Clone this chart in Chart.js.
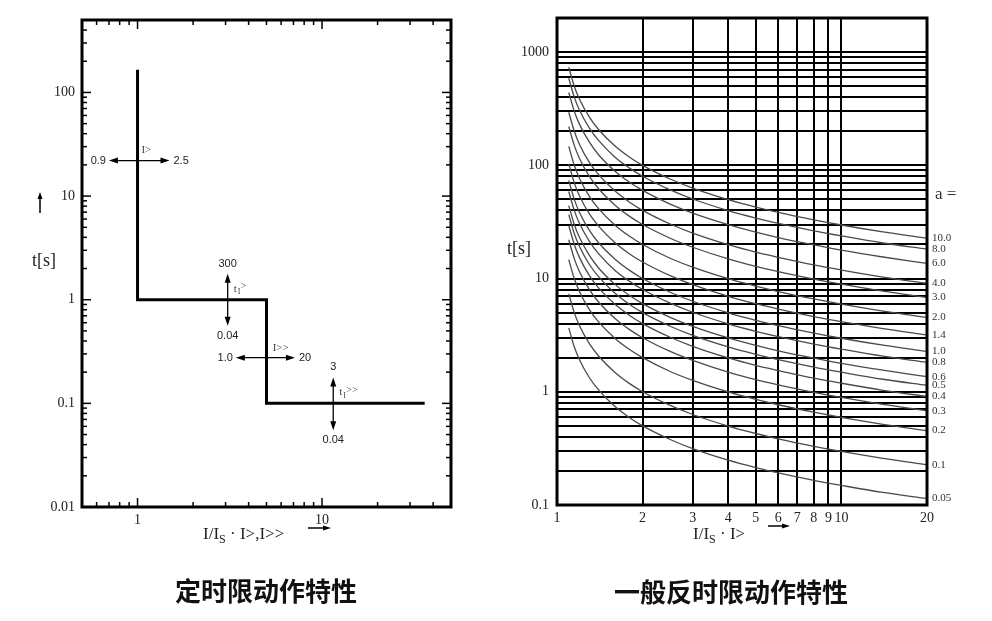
<!DOCTYPE html>
<html>
<head>
<meta charset="utf-8">
<script src="https://cdn.jsdelivr.net/npm/chart.js@4.4.1/dist/chart.umd.min.js"></script>
<style>
  body{margin:0;background:#fff;width:992px;height:621px;position:relative;overflow:hidden;}
  canvas{position:absolute;top:0;}
  #defTime{left:0;}
  #invTime{left:496px;}
  .cap{position:absolute;font-family:"Noto Sans CJK SC";font-weight:700;font-size:26px;color:#111;transform:translate(-50%,-50%);white-space:nowrap;}
  .ttl{position:absolute;font-family:"Liberation Serif",serif;font-size:17px;color:#222;white-space:nowrap;line-height:20px;}
  .ttl sub{font-size:12px;vertical-align:baseline;position:relative;top:4px;}
</style>
</head>
<body>
<canvas id="defTime" width="496" height="621"></canvas>
<canvas id="invTime" width="496" height="621"></canvas>
<div class="ttl" style="left:203px;top:524px">I/I<sub>S</sub> · I&gt;,I&gt;&gt;</div>
<div class="ttl" style="left:693px;top:524px">I/I<sub>S</sub> · I&gt;</div>
<div class="cap" style="left:266px;top:589px">定时限动作特性</div>
<div class="cap" style="left:731px;top:590px">一般反时限动作特性</div>
<script>
// ---- left chart: definite time characteristic ----
var stepX = [1, 1, 5, 5, 36];
var stepY = [166, 1, 1, 0.1, 0.1];
var defXLabels = [1, 10];
var defYLabels = [0.01, 0.1, 1, 10, 100];
var defXMinor = [0.6, 0.7, 0.8, 0.9, 2, 3, 4, 5, 6, 7, 8, 9, 20, 30, 40];
var defYMinor = [0.02, 0.03, 0.04, 0.05, 0.06, 0.07, 0.08, 0.09, 0.2, 0.3, 0.4, 0.5, 0.6, 0.7, 0.8, 0.9,
                 2, 3, 4, 5, 6, 7, 8, 9, 20, 30, 40, 50, 60, 70, 80, 90, 200, 300, 400];
// setting ranges (arrows): horizontal = current setting, vertical = time setting
var hArrows = [
  {y: 22, x0: 0.70, x1: 1.49, lo: '0.9', hi: '2.5', name: 'I>', nx: 1.05},
  {y: 0.276, x0: 3.41, x1: 7.13, lo: '1.0', hi: '20', name: 'I>>', nx: 5.4}
];
var vArrows = [
  {x: 3.08, y0: 1.78, y1: 0.56, hi: '300', lo: '0.04', name: '>'},
  {x: 11.5, y0: 0.178, y1: 0.055, hi: '3', lo: '0.04', name: '>>'}
];

// ---- right chart: normal inverse time curves ----
var curveX = [1.1, 1.15, 1.2, 1.3, 1.4, 1.6, 1.8, 2, 2.5, 3, 4, 5, 6, 8, 10, 14, 20];
var tA10  = [734, 500, 383, 266, 207, 148, 118, 100, 75.7, 63.0, 49.8, 42.8, 38.4, 33.0, 29.7, 25.8, 22.7];
var tA8   = [587, 400, 306, 213, 166, 118, 94.4, 80.0, 60.6, 50.4, 39.8, 34.2, 30.7, 26.4, 23.8, 20.6, 18.2];
var tA6   = [440, 300, 230, 160, 124, 88.8, 70.8, 60.0, 45.4, 37.8, 29.9, 25.7, 23.0, 19.8, 17.8, 15.5, 13.6];
var tA4   = [294, 200, 153, 106, 82.8, 59.2, 47.2, 40.0, 30.3, 25.2, 19.9, 17.1, 15.4, 13.2, 11.9, 10.3, 9.08];
var tA3   = [220, 150, 115, 79.8, 62.1, 44.4, 35.4, 30.0, 22.7, 18.9, 14.9, 12.8, 11.5, 9.90, 8.91, 7.74, 6.81];
var tA2   = [147, 100, 76.6, 53.2, 41.4, 29.6, 23.6, 20.0, 15.1, 12.6, 9.96, 8.56, 7.68, 6.60, 5.94, 5.16, 4.54];
var tA1_4 = [103, 70.0, 53.6, 37.2, 29.0, 20.7, 16.5, 14.0, 10.6, 8.82, 6.97, 5.99, 5.38, 4.62, 4.16, 3.61, 3.18];
var tA1   = [73.4, 50.0, 38.3, 26.6, 20.7, 14.8, 11.8, 10.0, 7.57, 6.30, 4.98, 4.28, 3.84, 3.30, 2.97, 2.58, 2.27];
var tA0_8 = [58.7, 40.0, 30.6, 21.3, 16.6, 11.8, 9.44, 8.00, 6.06, 5.04, 3.98, 3.42, 3.07, 2.64, 2.38, 2.06, 1.82];
var tA0_6 = [44.0, 30.0, 23.0, 16.0, 12.4, 8.88, 7.08, 6.00, 4.54, 3.78, 2.99, 2.57, 2.30, 1.98, 1.78, 1.55, 1.36];
var tA0_5 = [36.7, 25.0, 19.2, 13.3, 10.4, 7.40, 5.90, 5.00, 3.79, 3.15, 2.49, 2.14, 1.92, 1.65, 1.49, 1.29, 1.14];
var tA0_4 = [29.4, 20.0, 15.3, 10.6, 8.28, 5.92, 4.72, 4.00, 3.03, 2.52, 1.99, 1.71, 1.54, 1.32, 1.19, 1.03, 0.908];
var tA0_3 = [22.0, 15.0, 11.5, 7.98, 6.21, 4.44, 3.54, 3.00, 2.27, 1.89, 1.49, 1.28, 1.15, 0.990, 0.891, 0.774, 0.681];
var tA0_2 = [14.7, 10.0, 7.66, 5.32, 4.14, 2.96, 2.36, 2.00, 1.51, 1.26, 0.996, 0.856, 0.768, 0.660, 0.594, 0.516, 0.454];
var tA0_1 = [7.34, 5.00, 3.83, 2.66, 2.07, 1.48, 1.18, 1.00, 0.757, 0.630, 0.498, 0.428, 0.384, 0.330, 0.297, 0.258, 0.227];
var tA0_05= [3.67, 2.50, 1.92, 1.33, 1.04, 0.740, 0.590, 0.500, 0.379, 0.315, 0.249, 0.214, 0.192, 0.165, 0.149, 0.129, 0.114];
var aLabels = ['10.0', '8.0', '6.0', '4.0', '3.0', '2.0', '1.4', '1.0', '0.8', '0.6', '0.5', '0.4', '0.3', '0.2', '0.1', '0.05'];
var aCurves = [tA10, tA8, tA6, tA4, tA3, tA2, tA1_4, tA1, tA0_8, tA0_6, tA0_5, tA0_4, tA0_3, tA0_2, tA0_1, tA0_05];
var invXGrid = [1, 2, 3, 4, 5, 6, 7, 8, 9, 10, 20];
var invYLabels = [0.1, 1, 10, 100, 1000];
var invYGrid = [];
[0.1, 1, 10, 100, 1000].forEach(function(d){
  for (var m = 1; m <= 9; m++) invYGrid.push(+(m * d).toPrecision(3));
});
invYGrid.push(2000);

var serif = 'Liberation Serif';
var sans = 'Liberation Sans';

function line(ctx, x0, y0, x1, y1){
  ctx.beginPath(); ctx.moveTo(x0, y0); ctx.lineTo(x1, y1); ctx.stroke();
}
function head(ctx, x, y, dx, dy, len, w){
  // arrow head tip at (x,y) pointing along (dx,dy)
  ctx.beginPath();
  ctx.moveTo(x, y);
  ctx.lineTo(x - dx*len - dy*w, y - dy*len + dx*w);
  ctx.lineTo(x - dx*len + dy*w, y - dy*len - dx*w);
  ctx.closePath(); ctx.fill();
}

var defDeco = {
  id: 'defDeco',
  afterDatasetsDraw: function(chart){
    var ctx = chart.ctx, a = chart.chartArea, x = chart.scales.x, y = chart.scales.y;
    ctx.save();
    ctx.strokeStyle = '#000'; ctx.fillStyle = '#000';
    // inward tick marks on all four sides
    ctx.lineWidth = 1.5;
    defYLabels.forEach(function(v){ var p = y.getPixelForValue(v); line(ctx, a.left, p, a.left+9, p); line(ctx, a.right-9, p, a.right, p); });
    defYMinor.forEach(function(v){ var p = y.getPixelForValue(v); line(ctx, a.left, p, a.left+5, p); line(ctx, a.right-5, p, a.right, p); });
    defXLabels.forEach(function(v){ var p = x.getPixelForValue(v); line(ctx, p, a.bottom, p, a.bottom-9); line(ctx, p, a.top, p, a.top+9); });
    defXMinor.forEach(function(v){ var p = x.getPixelForValue(v); line(ctx, p, a.bottom, p, a.bottom-5); line(ctx, p, a.top, p, a.top+5); });
    ctx.lineWidth = 3;
    ctx.strokeRect(a.left, a.top, a.right - a.left, a.bottom - a.top);

    // setting arrows
    ctx.lineWidth = 1.3;
    ctx.textBaseline = 'middle';
    hArrows.forEach(function(h){
      var py = y.getPixelForValue(h.y), p0 = x.getPixelForValue(h.x0), p1 = x.getPixelForValue(h.x1);
      line(ctx, p0 + 4, py, p1 - 4, py);
      head(ctx, p0, py, -1, 0, 9, 3); head(ctx, p1, py, 1, 0, 9, 3);
      ctx.font = '11px "' + sans + '"'; ctx.fillStyle = '#222';
      ctx.textAlign = 'right'; ctx.fillText(h.lo, p0 - 3, py);
      ctx.textAlign = 'left'; ctx.fillText(h.hi, p1 + 4, py);
      ctx.font = '11px "' + serif + '"'; ctx.fillStyle = '#444';
      ctx.fillText(h.name, x.getPixelForValue(h.nx), py - 10);
      ctx.fillStyle = '#000';
    });
    vArrows.forEach(function(v){
      var px = x.getPixelForValue(v.x), p0 = y.getPixelForValue(v.y0), p1 = y.getPixelForValue(v.y1);
      line(ctx, px, p0 + 4, px, p1 - 4);
      head(ctx, px, p0, 0, -1, 9, 3); head(ctx, px, p1, 0, 1, 9, 3);
      ctx.font = '11px "' + sans + '"'; ctx.fillStyle = '#222'; ctx.textAlign = 'center';
      ctx.fillText(v.hi, px, p0 - 10);
      ctx.fillText(v.lo, px, p1 + 10);
      ctx.textAlign = 'left'; ctx.fillStyle = '#444';
      ctx.font = '11px "' + serif + '"'; ctx.fillText('t', px + 6, p0 + 15);
      ctx.font = '8px "' + serif + '"'; ctx.fillText('I', px + 10, p0 + 18);
      ctx.font = '10px "' + serif + '"'; ctx.fillText(v.name, px + 13, p0 + 13);
      ctx.fillStyle = '#000';
    });

    // axis label t[s] with arrow
    ctx.fillStyle = '#222';
    ctx.font = '18px "' + serif + '"'; ctx.textAlign = 'center';
    ctx.fillText('t[s]', 44, 261);
    ctx.fillStyle = '#000'; ctx.lineWidth = 1.5;
    line(ctx, 40, 213, 40, 197); head(ctx, 40, 192, 0, -1, 7, 2.5);
    line(ctx, 308, 528, 324, 528); head(ctx, 331, 528, 1, 0, 8, 2.5);
    ctx.restore();
  }
};

new Chart(document.getElementById('defTime').getContext('2d'), {
  type: 'line',
  data: {
    datasets: [{
      data: stepX.map(function(v, i){ return {x: v, y: stepY[i]}; }),
      borderColor: '#000',
      borderWidth: 3,
      pointRadius: 0,
      fill: false,
      tension: 0
    }]
  },
  options: {
    responsive: false,
    animation: false,
    devicePixelRatio: 1,
    layout: {padding: {left: 0, right: 45, top: 20, bottom: 0}},
    plugins: {legend: {display: false}, tooltip: {enabled: false}},
    scales: {
      x: {
        type: 'logarithmic', min: 0.5, max: 50,
        grid: {display: false, drawTicks: false}, border: {display: false},
        afterBuildTicks: function(s){ s.ticks = defXLabels.map(function(v){ return {value: v}; }); },
        afterFit: function(s){ s.height = 114; },
        ticks: {autoSkip: false, maxRotation: 0, padding: 5, color: '#222',
                font: {family: serif, size: 14},
                callback: function(v){ return String(v); }}
      },
      y: {
        type: 'logarithmic', min: 0.01, max: 500,
        grid: {display: false, drawTicks: false}, border: {display: false},
        afterBuildTicks: function(s){ s.ticks = defYLabels.map(function(v){ return {value: v}; }); },
        afterFit: function(s){ s.width = 82; },
        ticks: {autoSkip: false, padding: 7, color: '#222',
                font: {family: serif, size: 14},
                callback: function(v){ return String(v); }}
      }
    }
  },
  plugins: [defDeco]
});

var invDeco = {
  id: 'invDeco',
  afterDatasetsDraw: function(chart){
    var ctx = chart.ctx, a = chart.chartArea, y = chart.scales.y;
    ctx.save();
    ctx.strokeStyle = '#000'; ctx.lineWidth = 3;
    ctx.strokeRect(a.left, a.top, a.right - a.left, a.bottom - a.top);
    ctx.fillStyle = '#333';
    ctx.textAlign = 'left'; ctx.textBaseline = 'middle';
    ctx.font = '11px "' + serif + '"';
    aCurves.forEach(function(c, i){
      ctx.fillText(aLabels[i], a.right + 5, y.getPixelForValue(c[c.length - 1]));
    });
    ctx.font = '17px "' + serif + '"';
    ctx.fillText('a =', a.right + 8, 195);
    ctx.fillStyle = '#222'; ctx.textAlign = 'center';
    ctx.font = '18px "' + serif + '"';
    ctx.fillText('t[s]', 23, 249);
    ctx.fillStyle = '#000'; ctx.lineWidth = 1.5;
    line(ctx, 272, 526, 287, 526); head(ctx, 294, 526, 1, 0, 8, 2.5);
    ctx.restore();
  }
};

new Chart(document.getElementById('invTime').getContext('2d'), {
  type: 'line',
  data: {
    datasets: aCurves.map(function(c){
      return {
        data: curveX.map(function(v, i){ return {x: v, y: c[i]}; }),
        borderColor: '#4a4a4a',
        borderWidth: 1.3,
        pointRadius: 0,
        fill: false,
        cubicInterpolationMode: 'monotone'
      };
    })
  },
  options: {
    responsive: false,
    animation: false,
    devicePixelRatio: 1,
    layout: {padding: {left: 0, right: 65, top: 18, bottom: 0}},
    plugins: {legend: {display: false}, tooltip: {enabled: false}},
    scales: {
      x: {
        type: 'logarithmic', min: 1, max: 20,
        grid: {color: '#000', lineWidth: 2, drawTicks: false}, border: {display: false},
        afterBuildTicks: function(s){ s.ticks = invXGrid.map(function(v){ return {value: v}; }); },
        afterFit: function(s){ s.height = 116; },
        ticks: {autoSkip: false, maxRotation: 0, padding: 5, color: '#222',
                font: {family: serif, size: 14},
                callback: function(v){ return String(v); }}
      },
      y: {
        type: 'logarithmic', min: 0.1, max: 2000,
        grid: {color: '#000', lineWidth: 2, drawTicks: false}, border: {display: false},
        afterBuildTicks: function(s){ s.ticks = invYGrid.map(function(v){ return {value: v}; }); },
        afterFit: function(s){ s.width = 61; },
        ticks: {autoSkip: false, padding: 8, color: '#222',
                font: {family: serif, size: 14},
                callback: function(v){ return invYLabels.indexOf(v) >= 0 ? String(v) : ''; }}
      }
    }
  },
  plugins: [invDeco]
});
</script>
</body>
</html>
